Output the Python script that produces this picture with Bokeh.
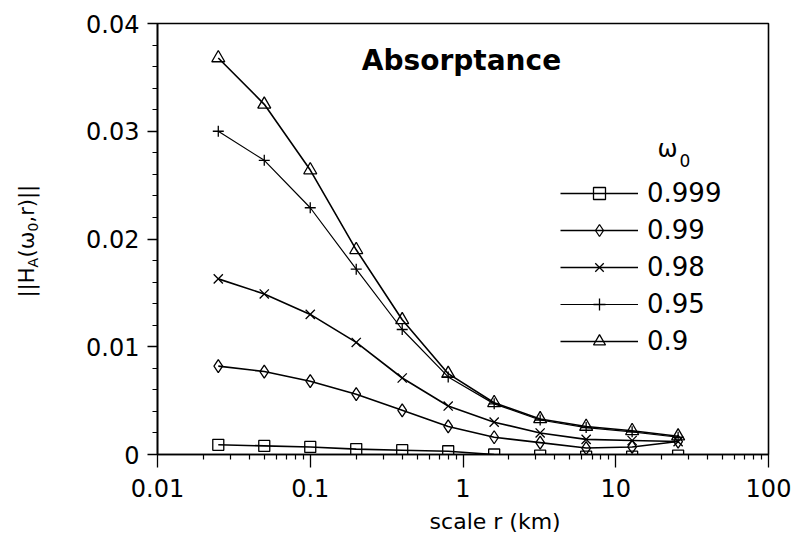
import math
from bokeh.plotting import figure
from bokeh.models import Range1d, FixedTicker, Label, Legend, LegendItem
from bokeh.layouts import row, column
from bokeh.embed import file_html
from bokeh.resources import INLINE

# ---------------- data ----------------
scale_km = [0.025, 0.05, 0.1, 0.2, 0.4, 0.8, 1.6, 3.2, 6.4, 12.8, 25.6]
omega_labels = ["0.999", "0.99", "0.98", "0.95", "0.9"]
h_0999 = [0.0009, 0.0008, 0.0007, 0.0005, 0.0004, 0.0003, 0.0000, -0.0001, -0.0002, -0.0002, -0.0001]
h_099 = [0.0082, 0.0077, 0.0068, 0.0056, 0.0041, 0.0026, 0.0016, 0.0011, 0.0006, 0.0007, 0.0012]
h_098 = [0.0163, 0.0149, 0.0130, 0.0104, 0.0071, 0.0045, 0.0030, 0.0020, 0.0014, 0.0013, 0.0012]
h_095 = [0.0300, 0.0273, 0.0229, 0.0172, 0.0116, 0.0072, 0.0047, 0.0032, 0.0025, 0.0021, 0.0016]
h_09 = [0.0368, 0.0325, 0.0264, 0.0190, 0.0125, 0.0075, 0.0048, 0.0033, 0.0026, 0.0022, 0.0017]
series = [h_0999, h_099, h_098, h_095, h_09]

x_ticks = [0.01, 0.1, 1, 10, 100]
x_tick_labels = ["0.01", "0.1", "1", "10", "100"]
y_ticks = [0, 0.01, 0.02, 0.03, 0.04]
y_tick_labels = ["0", "0.01", "0.02", "0.03", "0.04"]

title_text = "Absorptance"
x_title = "scale r (km)"
y_title_parts = ["||H", "A", "(ω", "0", ",r)||"]   # main, sub, main, sub, main

# ---------------- layout constants (page pixels) ----------------
FONT = "DejaVu Sans"
markers = ["square", "diamond", "x", "cross", "triangle"]
msizes = [11, 13, 13, 11, 13]
lwidths = [1.6, 1.6, 1.6, 1.2, 1.6]

TOT_W, TOT_H = 799, 536
STRIP_W = 48          # left strip holding the rotated y title
MAIN_H = 506          # main plot height; below it a strip for the x title
FX0, FX1, FY0, FY1 = 157, 768, 23, 454   # frame in page pixels

def px_x(cx):
    return 10 ** (-2 + 4 * (cx - FX0) / (FX1 - FX0))

def px_y(cy):
    return 0.04 * (FY1 - cy) / (FY1 - FY0)

def blank(w, h):
    f = figure(width=w, height=h, x_range=Range1d(0, w), y_range=Range1d(0, h),
               output_backend="svg", toolbar_location=None, min_border=0,
               x_axis_location=None, y_axis_location=None)
    f.xgrid.visible = False
    f.ygrid.visible = False
    f.outline_line_color = None
    f.background_fill_color = "white"
    f.border_fill_color = "white"
    return f

# ---------------- main plot ----------------
main_w = TOT_W - STRIP_W
p = figure(width=main_w, height=MAIN_H, x_axis_type="log",
           x_range=Range1d(0.01, 100), y_range=Range1d(0, 0.04),
           output_backend="svg", toolbar_location=None,
           min_border_left=FX0 - STRIP_W, min_border_right=TOT_W - FX1,
           min_border_top=FY0, min_border_bottom=MAIN_H - FY1)
p.xgrid.visible = False
p.ygrid.visible = False
p.outline_line_color = "black"
p.outline_line_width = 1.6
p.background_fill_color = "white"
p.border_fill_color = "white"

minor_x = [k * 10.0 ** e for e in range(-2, 2) for k in range(2, 10)]
p.xaxis.ticker = FixedTicker(ticks=x_ticks, minor_ticks=minor_x)
p.xaxis.major_label_overrides = dict(zip(x_ticks, x_tick_labels))
p.yaxis.ticker = FixedTicker(ticks=y_ticks, minor_ticks=[i * 0.002 for i in range(21)])
p.yaxis.major_label_overrides = dict(zip(y_ticks, y_tick_labels))

for ax in (p.xaxis, p.yaxis):
    ax.axis_line_color = "black"
    ax.axis_line_width = 1.6
    ax.major_tick_line_color = "black"
    ax.minor_tick_line_color = "black"
    ax.major_tick_line_width = 1.3
    ax.minor_tick_line_width = 1.2
    ax.major_tick_in = 0
    ax.minor_tick_in = 0
    ax.major_label_text_font = FONT
    ax.major_label_text_color = "black"

p.xaxis.major_tick_out = 13
p.xaxis.minor_tick_out = 5
p.xaxis.major_label_standoff = 11
p.xaxis.major_label_text_font_size = "24px"
p.yaxis.major_tick_out = 10
p.yaxis.minor_tick_out = 5
p.yaxis.major_label_standoff = 8
p.yaxis.major_label_text_font_size = "24px"

items = []
for ys, lab, mk, ms, lw in zip(series, omega_labels, markers, msizes, lwidths):
    lr = p.line(scale_km, ys, line_color="black", line_width=lw)
    sr = p.scatter(scale_km, ys, marker=mk, size=ms, fill_color=None,
                   line_color="black", line_width=1.3)
    items.append(LegendItem(label=lab, renderers=[lr, sr]))

legend = Legend(items=items, location=(403, 98), orientation="vertical",
                glyph_width=78, glyph_height=30, label_height=30, spacing=7,
                padding=0, margin=0, label_standoff=9,
                border_line_color=None, background_fill_alpha=0,
                label_text_font=FONT, label_text_font_size="26px",
                label_text_color="black")
p.add_layout(legend)

p.add_layout(Label(x=px_x(461), y=px_y(60), text=title_text, text_align="center",
                   text_baseline="alphabetic", text_font=FONT, text_font_size="28px",
                   text_font_style="bold", text_color="black"))
p.add_layout(Label(x=px_x(657), y=px_y(148), text="ω", text_align="left",
                   text_baseline="alphabetic", text_font=FONT, text_font_size="24px",
                   text_color="black"))
p.add_layout(Label(x=px_x(679), y=px_y(160), text="0", text_align="left",
                   text_baseline="alphabetic", text_font=FONT, text_font_size="17px",
                   text_color="black"))

# ---------------- left strip: rotated y title ----------------
left = blank(STRIP_W, TOT_H)
sizes = [21, 14, 21, 14, 21]
center_x = [26, 32, 26, 32, 26]
widths = [30.0, 9.6, 26.5, 8.9, 37.7]
cy = 297
for part, fs, cx, w in zip(y_title_parts, sizes, center_x, widths):
    left.add_layout(Label(x=cx, y=TOT_H - (cy - w / 2), text=part, angle=math.pi / 2,
                          text_align="center", text_baseline="middle",
                          text_font=FONT, text_font_size=f"{fs}px", text_color="black"))
    cy -= w

# ---------------- bottom strip: x title ----------------
bottom_h = TOT_H - MAIN_H
bot = blank(main_w, bottom_h)
bot.add_layout(Label(x=463 - STRIP_W, y=bottom_h / 2, text=x_title,
                     text_align="center", text_baseline="middle",
                     text_font=FONT, text_font_size="22px", text_color="black"))

layout = row(left, column(p, bot, spacing=0), spacing=0)
open("out.html", "w").write(file_html(layout, INLINE))
